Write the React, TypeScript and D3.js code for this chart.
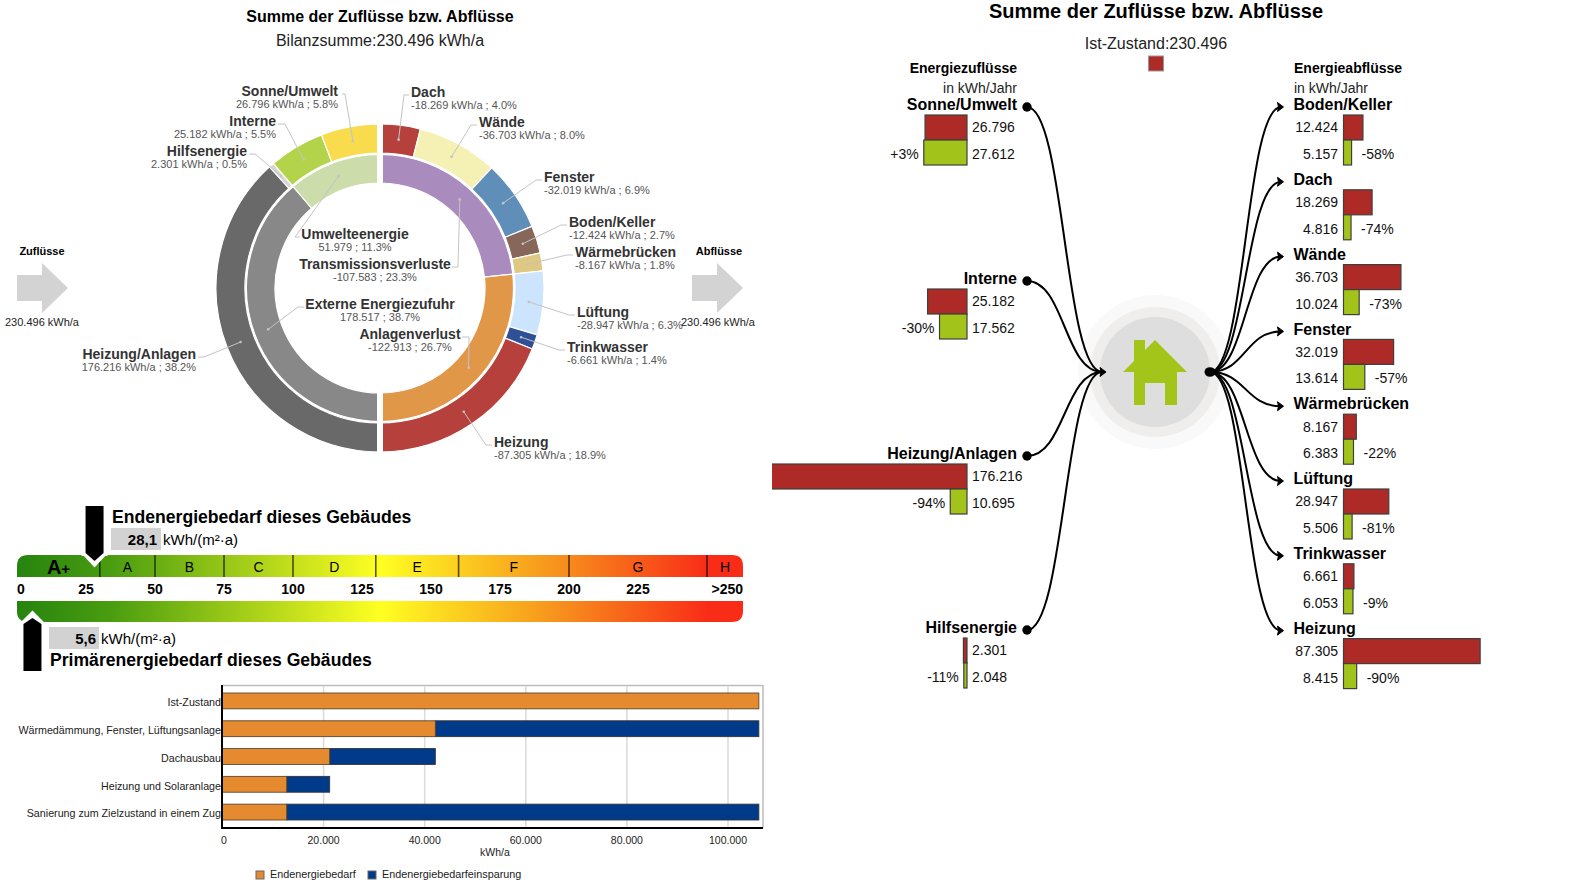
import React from "react";
import * as d3 from "d3";

// ---------- data ----------
const outerRight = [
  { name: "Dach", value: 18.269, sub: "-18.269 kWh/a ; 4.0%" },
  { name: "Wände", value: 36.703, sub: "-36.703 kWh/a ; 8.0%" },
  { name: "Fenster", value: 32.019, sub: "-32.019 kWh/a ; 6.9%" },
  { name: "Boden/Keller", value: 12.424, sub: "-12.424 kWh/a ; 2.7%" },
  { name: "Wärmebrücken", value: 8.167, sub: "-8.167 kWh/a ; 1.8%" },
  { name: "Lüftung", value: 28.947, sub: "-28.947 kWh/a ; 6.3%" },
  { name: "Trinkwasser", value: 6.661, sub: "-6.661 kWh/a ; 1.4%" },
  { name: "Heizung", value: 87.305, sub: "-87.305 kWh/a ; 18.9%" },
];
const outerLeft = [
  { name: "Heizung/Anlagen", value: 176.216, sub: "176.216 kWh/a ; 38.2%" },
  { name: "Hilfsenergie", value: 2.301, sub: "2.301 kWh/a ; 0.5%" },
  { name: "Interne", value: 25.182, sub: "25.182 kWh/a ; 5.5%" },
  { name: "Sonne/Umwelt", value: 26.796, sub: "26.796 kWh/a ; 5.8%" },
];
const innerRing = [
  { name: "Transmissionsverluste", value: 107.583, sub: "-107.583 ; 23.3%" },
  { name: "Anlagenverlust", value: 122.913, sub: "-122.913 ; 26.7%" },
  { name: "Externe Energiezufuhr", value: 178.517, sub: "178.517 ; 38.7%" },
  { name: "Umwelteenergie", value: 51.979, sub: "51.979 ; 11.3%" },
];
const inflows = [
  { name: "Sonne/Umwelt", before: 26.796, after: 27.612, pct: "+3%" },
  { name: "Interne", before: 25.182, after: 17.562, pct: "-30%" },
  { name: "Heizung/Anlagen", before: 176.216, after: 10.695, pct: "-94%" },
  { name: "Hilfsenergie", before: 2.301, after: 2.048, pct: "-11%" },
];
const outflows = [
  { name: "Boden/Keller", before: 12.424, after: 5.157, pct: "-58%" },
  { name: "Dach", before: 18.269, after: 4.816, pct: "-74%" },
  { name: "Wände", before: 36.703, after: 10.024, pct: "-73%" },
  { name: "Fenster", before: 32.019, after: 13.614, pct: "-57%" },
  { name: "Wärmebrücken", before: 8.167, after: 6.383, pct: "-22%" },
  { name: "Lüftung", before: 28.947, after: 5.506, pct: "-81%" },
  { name: "Trinkwasser", before: 6.661, after: 6.053, pct: "-9%" },
  { name: "Heizung", before: 87.305, after: 8.415, pct: "-90%" },
];
const classBreaks = [30, 50, 75, 100, 130, 160, 200, 250];
const classLabels = ["A", "B", "C", "D", "E", "F", "G", "H"];
const scaleTicks = [25, 50, 75, 100, 125, 150, 175, 200, 225];
const endEnergy = 28.1;
const primaryEnergy = 5.6;
const scenarios = [
  "Ist-Zustand",
  "Wärmedämmung, Fenster, Lüftungsanlage",
  "Dachausbau",
  "Heizung und Solaranlage",
  "Sanierung zum Zielzustand in einem Zug",
];
const endDemand = [106100, 42100, 21200, 12700, 12700];
const endSaving = [0, 64000, 20900, 8500, 93400];
const barTicks = [0, 20000, 40000, 60000, 80000, 100000];

// ---------- styles and layout ----------
const FONT = "'Liberation Sans', Arial, sans-serif";
const sliceColor: Record<string, string> = {
  Dach: "#b5403c", Wände: "#f5f0b3", Fenster: "#5f8fb9", "Boden/Keller": "#86675a",
  Wärmebrücken: "#dfc982", Lüftung: "#cce4fe", Trinkwasser: "#2f4f96", Heizung: "#b5403c",
  "Heizung/Anlagen": "#696969", Hilfsenergie: "#d6d6d6", Interne: "#b3d44a", "Sonne/Umwelt": "#f9dc4e",
  Transmissionsverluste: "#a98cbd", Anlagenverlust: "#e09748", "Externe Energiezufuhr": "#888888", Umwelteenergie: "#ccdcab",
};
type Lab = { x: number; y: number; side: "l" | "r" | "c"; x1: number; x2: number };
const outerLabels: Record<string, Lab> = {
  "Sonne/Umwelt": { x: 338, y: 91, side: "r", x1: 342, x2: 345 },
  Interne: { x: 276, y: 121, side: "r", x1: 278, x2: 285 },
  Hilfsenergie: { x: 247, y: 151, side: "r", x1: 249, x2: 255 },
  "Heizung/Anlagen": { x: 196, y: 354, side: "r", x1: 198, x2: 204 },
  Dach: { x: 411, y: 92, side: "l", x1: 409, x2: 404 },
  Wände: { x: 479, y: 122, side: "l", x1: 477, x2: 471 },
  Fenster: { x: 544, y: 177, side: "l", x1: 542, x2: 536 },
  "Boden/Keller": { x: 569, y: 222, side: "l", x1: 567, x2: 561 },
  Wärmebrücken: { x: 575, y: 252, side: "l", x1: 573, x2: 567 },
  Lüftung: { x: 577, y: 312, side: "l", x1: 575, x2: 569 },
  Trinkwasser: { x: 567, y: 347, side: "l", x1: 565, x2: 559 },
  Heizung: { x: 494, y: 442, side: "l", x1: 492, x2: 486 },
};
const innerLabels: Record<string, Lab> = {
  Umwelteenergie: { x: 355, y: 234, side: "c", x1: 300, x2: 295 },
  Transmissionsverluste: { x: 375, y: 264, side: "c", x1: 452, x2: 458 },
  "Externe Energiezufuhr": { x: 380, y: 304, side: "c", x1: 304, x2: 298 },
  Anlagenverlust: { x: 410, y: 334, side: "c", x1: 462, x2: 469 },
};
const anchorOf = (s: string) => (s === "r" ? "end" : s === "l" ? "start" : "middle");

const T = ({ x, y, size = 14, bold = false, anchor = "start", fill = "#000", children, ...rest }: any) => (
  <text x={x} y={y} dy="0.35em" fontSize={size} fontWeight={bold ? 700 : 400} textAnchor={anchor} fill={fill} {...rest}>
    {children}
  </text>
);

function Donut() {
  const cx = 380, cy = 288;
  const pie = d3.pie<any>().value((d) => d.value).sort(null);
  const outer = pie([...outerRight, ...outerLeft]);
  const inner = pie(innerRing);
  const outerArc = d3.arc<any>().innerRadius(135).outerRadius(164);
  const innerArc = d3.arc<any>().innerRadius(105).outerRadius(133.5);
  const rings = [
    { arcs: outer, gen: outerArc, labels: outerLabels },
    { arcs: inner, gen: innerArc, labels: innerLabels },
  ];
  return (
    <g>
      <g transform={`translate(${cx},${cy})`}>
        {rings.map((r, i) =>
          r.arcs.map((a: any) => (
            <path key={i + a.data.name} d={r.gen(a) as string} fill={sliceColor[a.data.name]} stroke="#fff" strokeWidth={1.2} />
          ))
        )}
      </g>
      <rect x={cx - 3} y={cy - 170} width={6} height={340} fill="#fff" />
      {rings.map((r, i) =>
        r.arcs.map((a: any) => {
          const lab = r.labels[a.data.name];
          const [ex, ey] = r.gen.centroid(a);
          const ly = lab.y + 3;
          const pts = `${lab.x1},${ly} ${lab.x2},${ly} ${cx + ex},${cy + ey}`;
          return (
            <g key={i + a.data.name}>
              <polyline points={pts} fill="none" stroke="#c4c4c4" strokeWidth={1} />
              <circle cx={cx + ex} cy={cy + ey} r={1.3} fill="#c4c4c4" />
              <T x={lab.x} y={lab.y} bold fill="#333" anchor={anchorOf(lab.side)}>{a.data.name}</T>
              <T x={lab.x} y={lab.y + 13} size={11} fill="#555" anchor={anchorOf(lab.side)}>{a.data.sub}</T>
            </g>
          );
        })
      )}
    </g>
  );
}

function GreyArrow({ x }: { x: number }) {
  const y = 288;
  return <path d={`M${x},${y - 13}H${x + 25}V${y - 25}L${x + 51},${y}L${x + 25},${y + 25}V${y + 13}H${x}Z`} fill="#d3d3d3" />;
}

function EnergyScale() {
  const x = d3.scaleLinear().domain([0, 250]).range([17, 707]);
  const L = 17, R = 743, r = 11;
  const top = `M${L},577V${555 + r}Q${L},555 ${L + r},555H${R - r}Q${R},555 ${R},${555 + r}V577Z`;
  const bot = `M${L},601H${R}V${622 - r}Q${R},622 ${R - r},622H${L + r}Q${L},622 ${L},${622 - r}Z`;
  const centers = classBreaks.map((b, i) => (i < classBreaks.length - 1 ? (x(b) + x(classBreaks[i + 1])) / 2 : (x(b) + R) / 2));
  const p1 = x(endEnergy), p2 = x(primaryEnergy);
  return (
    <g>
      <defs>
        <linearGradient id="eg" gradientUnits="userSpaceOnUse" x1={L} x2={R} y1={0} y2={0}>
          <stop offset="0" stopColor="#26830e" />
          <stop offset="0.13" stopColor="#4a9d10" />
          <stop offset="0.5" stopColor="#ffff22" />
          <stop offset="0.74" stopColor="#f7941d" />
          <stop offset="0.95" stopColor="#f92d17" />
          <stop offset="1" stopColor="#f92d17" />
        </linearGradient>
      </defs>
      <path d={top} fill="url(#eg)" />
      <path d={bot} fill="url(#eg)" />
      {classBreaks.map((b) => (
        <line key={b} x1={x(b)} x2={x(b)} y1={555} y2={577} stroke="#000" strokeOpacity={0.65} strokeWidth={1.6} />
      ))}
      <T x={58.5} y={567} size={20} bold anchor="middle">A<tspan fontSize={15}>+</tspan></T>
      {classLabels.map((c, i) => (
        <T key={c} x={centers[i]} y={567} anchor="middle">{c}</T>
      ))}
      <T x={17} y={589} bold>0</T>
      {scaleTicks.map((t) => (
        <T key={t} x={x(t)} y={589} bold anchor="middle">{t}</T>
      ))}
      <T x={743} y={589} bold anchor="end">&gt;250</T>

      <path d={`M${p1 - 12},553L${p1},566L${p1 + 12},553V555H${p1 - 12}Z`} fill="#fff" stroke="#fff" strokeWidth={2} />
      <path d={`M${p1 - 9},506H${p1 + 9}V553L${p1},561L${p1 - 9},553Z`} fill="#000" />
      <rect x={111} y={528} width={50} height={22} fill="#d2d2d2" />
      <T x={112} y={517} size={17.6} bold>Endenergiebedarf dieses Gebäudes</T>
      <T x={157} y={540} size={15} bold anchor="end">28,1</T>
      <T x={163} y={540} size={15}>kWh/(m²·a)</T>

      <path d={`M${p2 - 12},624L${p2},612L${p2 + 12},624Z`} fill="#fff" stroke="#fff" strokeWidth={2} />
      <path d={`M${p2 - 9},671H${p2 + 9}V624L${p2},618L${p2 - 9},624Z`} fill="#000" />
      <rect x={49} y={627} width={50} height={22} fill="#d2d2d2" />
      <T x={96} y={639} size={15} bold anchor="end">5,6</T>
      <T x={101} y={639} size={15}>kWh/(m²·a)</T>
      <T x={50} y={660} size={17.6} bold>Primärenergiebedarf dieses Gebäudes</T>
    </g>
  );
}

function BarChart() {
  const x = d3.scaleLinear().domain([0, 100000]).range([222.5, 728]);
  const y = d3.scaleBand<string>().domain(scenarios).range([693, 820]).paddingInner(0.43).paddingOuter(0);
  const fmt = (v: number) => d3.format(",")(v).replace(/,/g, ".");
  return (
    <g>
      <defs>
        <clipPath id="catClip"><rect x={0} y={680} width={221} height={150} /></clipPath>
      </defs>
      <line x1={222} x2={763} y1={685.5} y2={685.5} stroke="#bdbdbd" strokeWidth={1.5} />
      <line x1={763} x2={763} y1={685} y2={828} stroke="#bdbdbd" strokeWidth={1.5} />
      {barTicks.slice(1).map((t) => (
        <line key={t} x1={x(t)} x2={x(t)} y1={686} y2={827} stroke="#dcdcdc" strokeWidth={1.6} />
      ))}
      {scenarios.map((s, i) => (
        <g key={s}>
          <rect x={x(endDemand[i])} y={y(s)} width={x(endSaving[i]) - x(0)} height={y.bandwidth()} fill="#003b8b" stroke="#333" strokeWidth={0.9} />
          <rect x={x(0)} y={y(s)} width={x(endDemand[i]) - x(0)} height={y.bandwidth()} fill="#e58a2e" stroke="#5a4630" strokeWidth={0.9} />
        </g>
      ))}
      <line x1={222} x2={222} y1={685} y2={829} stroke="#000" strokeWidth={2} />
      <line x1={222} x2={763} y1={828} y2={828} stroke="#000" strokeWidth={2} />
      <g clipPath="url(#catClip)">
        {scenarios.map((s) => (
          <T key={s} x={221} y={(y(s) as number) + y.bandwidth() / 2 + 1.5} size={10.7} anchor="end" fill="#222">{s}</T>
        ))}
      </g>
      {barTicks.map((t) => (
        <T key={t} x={x(t) + (t === 0 ? 1.5 : 0)} y={840} size={10.5} anchor="middle" fill="#222">{fmt(t)}</T>
      ))}
      <T x={495} y={852} size={10.5} anchor="middle" fill="#222">kWh/a</T>
      <rect x={256} y={871} width={8} height={8} fill="#e58a2e" stroke="#666" />
      <T x={270} y={874} size={10.8} fill="#222">Endenergiebedarf</T>
      <rect x={368} y={871} width={8} height={8} fill="#003b8b" stroke="#666" />
      <T x={382} y={874} size={10.8} fill="#222">Endenergiebedarfeinsparung</T>
    </g>
  );
}

function Flows() {
  const w = d3.scaleLinear().domain([0, 100]).range([0, 156.5]);
  const link = d3.linkHorizontal<any, any>().x((d: any) => d[0]).y((d: any) => d[1]);
  const RED = "#ae2a26", GREEN = "#a2c41a", EDGE = "#3f3f3f";
  const hub = { cx: 1155, cy: 372 };
  const inTops = [115, 289, 464, 638];
  const outTops = outflows.map((_, i) => 115 + i * 74.8);
  const X0 = 967, X1 = 1343.5;
  const h = hub;
  const house = `M${h.cx},${h.cy - 32}L${h.cx + 32},${h.cy}H${h.cx + 22}V${h.cy + 33}H${h.cx + 10}V${h.cy + 11}H${h.cx - 10}V${h.cy + 33}H${h.cx - 21}V${h.cy}H${h.cx - 32}L${h.cx - 21},${h.cy - 11}V${h.cy - 32}H${h.cx - 10}V${h.cy - 22}Z`;
  return (
    <g>
      <defs>
        <clipPath id="leftClip"><rect x={772} y={100} width={230} height={600} /></clipPath>
      </defs>
      <T x={1156} y={11} size={20} bold anchor="middle">Summe der Zuflüsse bzw. Abflüsse</T>
      <T x={1156} y={43} size={16} anchor="middle" fill="#222">Ist-Zustand:230.496</T>
      <rect x={1148.5} y={56} width={15} height={15} fill={RED} stroke="#999" />
      <circle cx={h.cx} cy={h.cy} r={77} fill="#f9f9f9" />
      <circle cx={h.cx} cy={h.cy} r={65} fill="#efeeed" />
      <circle cx={h.cx} cy={h.cy} r={55} fill="#dedede" />
      <path d={house} fill="#a3c519" />

      <T x={1017} y={68} bold anchor="end">Energiezuflüsse</T>
      <T x={1017} y={88} anchor="end" fill="#222">in kWh/Jahr</T>
      <T x={1294} y={68} bold>Energieabflüsse</T>
      <T x={1294} y={88} fill="#222">in kWh/Jahr</T>

      {inflows.map((d, i) => {
        const t = inTops[i];
        return (
          <g key={d.name}>
            <path d={link({ source: [1027, t - 8], target: [1102, h.cy] }) as string} fill="none" stroke="#000" strokeWidth={2} />
            <circle cx={1027} cy={t - 8} r={4.7} fill="#000" />
            <T x={1017} y={t - 10.5} size={16} bold anchor="end">{d.name}</T>
            <g clipPath="url(#leftClip)">
              <rect x={X0 - w(d.before)} y={t} width={w(d.before)} height={25} fill={RED} stroke={EDGE} strokeWidth={1.2} />
              <rect x={X0 - w(d.after)} y={t + 25} width={w(d.after)} height={25} fill={GREEN} stroke={EDGE} strokeWidth={1.2} />
            </g>
            <T x={972} y={t + 12.5} fill="#111">{d3.format(".3f")(d.before)}</T>
            <T x={972} y={t + 39} fill="#111">{d3.format(".3f")(d.after)}</T>
            <T x={X0 - w(d.after) - 5} y={t + 39} anchor="end" fill="#111">{d.pct}</T>
          </g>
        );
      })}
      <path d={`M1106,${h.cy}L1100,${h.cy - 4.5}L1101,${h.cy}L1100,${h.cy + 4.5}Z`} fill="#000" stroke="#000" />

      {outflows.map((d, i) => {
        const t = outTops[i];
        const ay = t - 8;
        return (
          <g key={d.name}>
            <path d={link({ source: [1210, h.cy], target: [1281, ay] }) as string} fill="none" stroke="#000" strokeWidth={2} />
            <path d={`M1283.5,${ay}L1277.5,${ay - 4.5}L1278.5,${ay}L1277.5,${ay + 4.5}Z`} fill="#000" stroke="#000" />
            <T x={1293.5} y={t - 10.5} size={16} bold>{d.name}</T>
            <rect x={X1} y={t} width={w(d.before)} height={25} fill={RED} stroke={EDGE} strokeWidth={1.2} />
            <rect x={X1} y={t + 25} width={w(d.after)} height={25} fill={GREEN} stroke={EDGE} strokeWidth={1.2} />
            <T x={1338} y={t + 12.5} anchor="end" fill="#111">{d3.format(".3f")(d.before)}</T>
            <T x={1338} y={t + 39} anchor="end" fill="#111">{d3.format(".3f")(d.after)}</T>
            <T x={X1 + w(d.after) + 10} y={t + 39} fill="#111">{d.pct}</T>
          </g>
        );
      })}
      <ellipse cx={1210} cy={h.cy} rx={5.5} ry={4.8} fill="#000" />
    </g>
  );
}

export default function App() {
  return (
    <svg width={1584} height={892} viewBox="0 0 1584 892" fontFamily={FONT}
      style={{ position: "absolute", left: 0, top: 0, background: "#fff" }}>
      <T x={380} y={16} size={16} bold anchor="middle">Summe der Zuflüsse bzw. Abflüsse</T>
      <T x={380} y={40} size={16} anchor="middle" fill="#222">Bilanzsumme:230.496 kWh/a</T>
      <Donut />
      <T x={42} y={251} size={11} bold anchor="middle">Zuflüsse</T>
      <GreyArrow x={17} />
      <T x={42} y={322} size={11} anchor="middle" fill="#222">230.496 kWh/a</T>
      <T x={719} y={251} size={11} bold anchor="middle">Abflüsse</T>
      <GreyArrow x={692} />
      <T x={718} y={322} size={11} anchor="middle" fill="#222">230.496 kWh/a</T>
      <EnergyScale />
      <BarChart />
      <Flows />
    </svg>
  );
}
